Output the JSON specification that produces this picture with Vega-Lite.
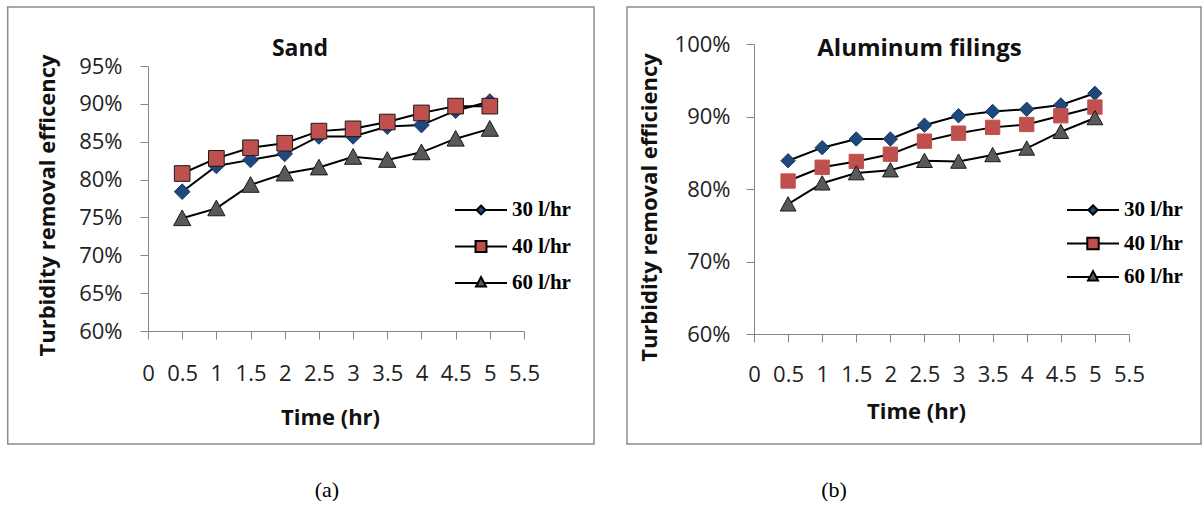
{
  "$schema": "https://vega.github.io/schema/vega-lite/v6.json",
  "background": "white",
  "padding": {"left": 6, "top": 5, "right": 0, "bottom": 0},
  "columns": 2,
  "spacing": 31,
  "resolve": {"scale": {"shape": "independent", "fill": "independent", "stroke": "independent", "color": "independent"}, "legend": {"shape": "independent", "fill": "independent", "color": "independent", "stroke": "independent"}},
  "config": {
    "view": {"stroke": null},
    "font": "Open Sans",
    "axis": {
      "grid": false, "domainColor": "#868686", "domainWidth": 1, "tickColor": "#868686", "tickWidth": 1, "tickSize": 8,
      "labelFont": "Open Sans", "labelFontSize": 22, "labelColor": "#222222", "labelFlush": false, "labelOverlap": false, "labelBound": false,
      "titleFont": "Open Sans", "titleFontSize": 22, "titleFontWeight": "bold", "titleColor": "#111111"
    },
    "legend": {"labelFont": "Liberation Serif", "labelFontSize": 21, "labelFontWeight": "bold", "labelColor": "#000000", "padding": 0, "symbolStrokeColor": "#000000", "symbolStrokeWidth": 2, "symbolOpacity": 1},
    "title": {"font": "Open Sans", "fontWeight": "bold", "color": "#111111"}
  },
  "datasets": {
    "sand": [
      {"time": 0.5, "rate": "30 l/hr", "efficiency": 78.4},
      {"time": 1, "rate": "30 l/hr", "efficiency": 81.8},
      {"time": 1.5, "rate": "30 l/hr", "efficiency": 82.6},
      {"time": 2, "rate": "30 l/hr", "efficiency": 83.4},
      {"time": 2.5, "rate": "30 l/hr", "efficiency": 85.7},
      {"time": 3, "rate": "30 l/hr", "efficiency": 85.7},
      {"time": 3.5, "rate": "30 l/hr", "efficiency": 87.0},
      {"time": 4, "rate": "30 l/hr", "efficiency": 87.2},
      {"time": 4.5, "rate": "30 l/hr", "efficiency": 89.1},
      {"time": 5, "rate": "30 l/hr", "efficiency": 90.3},
      {"time": 0.5, "rate": "40 l/hr", "efficiency": 80.8},
      {"time": 1, "rate": "40 l/hr", "efficiency": 82.8},
      {"time": 1.5, "rate": "40 l/hr", "efficiency": 84.2},
      {"time": 2, "rate": "40 l/hr", "efficiency": 84.8},
      {"time": 2.5, "rate": "40 l/hr", "efficiency": 86.4},
      {"time": 3, "rate": "40 l/hr", "efficiency": 86.7},
      {"time": 3.5, "rate": "40 l/hr", "efficiency": 87.6},
      {"time": 4, "rate": "40 l/hr", "efficiency": 88.8},
      {"time": 4.5, "rate": "40 l/hr", "efficiency": 89.7},
      {"time": 5, "rate": "40 l/hr", "efficiency": 89.7},
      {"time": 0.5, "rate": "60 l/hr", "efficiency": 74.9},
      {"time": 1, "rate": "60 l/hr", "efficiency": 76.2},
      {"time": 1.5, "rate": "60 l/hr", "efficiency": 79.3},
      {"time": 2, "rate": "60 l/hr", "efficiency": 80.8},
      {"time": 2.5, "rate": "60 l/hr", "efficiency": 81.6},
      {"time": 3, "rate": "60 l/hr", "efficiency": 83.0},
      {"time": 3.5, "rate": "60 l/hr", "efficiency": 82.6},
      {"time": 4, "rate": "60 l/hr", "efficiency": 83.6},
      {"time": 4.5, "rate": "60 l/hr", "efficiency": 85.4},
      {"time": 5, "rate": "60 l/hr", "efficiency": 86.7}
    ],
    "alu": [
      {"time": 0.5, "rate": "30 l/hr", "efficiency": 83.9},
      {"time": 1, "rate": "30 l/hr", "efficiency": 85.7},
      {"time": 1.5, "rate": "30 l/hr", "efficiency": 86.9},
      {"time": 2, "rate": "30 l/hr", "efficiency": 86.9},
      {"time": 2.5, "rate": "30 l/hr", "efficiency": 88.8},
      {"time": 3, "rate": "30 l/hr", "efficiency": 90.1},
      {"time": 3.5, "rate": "30 l/hr", "efficiency": 90.7},
      {"time": 4, "rate": "30 l/hr", "efficiency": 91.0},
      {"time": 4.5, "rate": "30 l/hr", "efficiency": 91.6},
      {"time": 5, "rate": "30 l/hr", "efficiency": 93.2},
      {"time": 0.5, "rate": "40 l/hr", "efficiency": 81.1},
      {"time": 1, "rate": "40 l/hr", "efficiency": 83.0},
      {"time": 1.5, "rate": "40 l/hr", "efficiency": 83.8},
      {"time": 2, "rate": "40 l/hr", "efficiency": 84.8},
      {"time": 2.5, "rate": "40 l/hr", "efficiency": 86.6},
      {"time": 3, "rate": "40 l/hr", "efficiency": 87.7},
      {"time": 3.5, "rate": "40 l/hr", "efficiency": 88.5},
      {"time": 4, "rate": "40 l/hr", "efficiency": 88.9},
      {"time": 4.5, "rate": "40 l/hr", "efficiency": 90.1},
      {"time": 5, "rate": "40 l/hr", "efficiency": 91.3},
      {"time": 0.5, "rate": "60 l/hr", "efficiency": 77.9},
      {"time": 1, "rate": "60 l/hr", "efficiency": 80.8},
      {"time": 1.5, "rate": "60 l/hr", "efficiency": 82.2},
      {"time": 2, "rate": "60 l/hr", "efficiency": 82.6},
      {"time": 2.5, "rate": "60 l/hr", "efficiency": 83.9},
      {"time": 3, "rate": "60 l/hr", "efficiency": 83.8},
      {"time": 3.5, "rate": "60 l/hr", "efficiency": 84.7},
      {"time": 4, "rate": "60 l/hr", "efficiency": 85.6},
      {"time": 4.5, "rate": "60 l/hr", "efficiency": 87.9},
      {"time": 5, "rate": "60 l/hr", "efficiency": 89.8}
    ]
  },
  "concat": [
    {
      "title": {"text": "(a)", "orient": "bottom", "anchor": "middle", "frame": "bounds", "dx": 26, "offset": 52, "baseline": "alphabetic", "font": "Liberation Serif", "fontSize": 22, "fontWeight": "normal", "color": "#000000"},
      "spacing": 0,
      "resolve": {"scale": {"shape": "independent", "fill": "independent", "stroke": "independent", "color": "independent"}, "legend": {"shape": "independent", "fill": "independent", "color": "independent", "stroke": "independent"}},
      "vconcat": [
        {
          "width": 1, "height": 1,
          "view": {"fill": "#ffffff", "stroke": null},
          "data": {"values": []},
          "mark": {"type": "point", "opacity": 0},
          "encoding": {}
        },
        {
          "width": 376,
          "height": 265,
          "title": {"text": "Sand", "anchor": "middle", "frame": "group", "dx": -36, "offset": -72.75, "baseline": "alphabetic", "fontSize": 23},
          "resolve": {"scale": {"shape": "independent", "color": "independent", "stroke": "independent"}, "legend": {"shape": "independent", "color": "independent", "stroke": "independent"}},
          "layer": [
            {
              "data": {"values": [{}]},
              "mark": {"type": "rect", "fill": "#ffffff", "fillOpacity": 0, "stroke": "#8c8c8c", "strokeWidth": 1.5, "clip": false},
              "encoding": {
                "x": {"datum": -2.052, "type": "quantitative", "scale": {"domain": [0, 5.5], "nice": false, "zero": false},
                  "axis": {"title": "Time (hr)", "values": [0, 0.5, 1, 1.5, 2, 2.5, 3, 3.5, 4, 4.5, 5, 5.5], "labelExpr": "datum.value + ''", "labelPadding": 24, "titleX": 182, "titleY": 93, "titleBaseline": "alphabetic", "titleAlign": "center"}},
                "x2": {"datum": 6.524},
                "y": {"datum": 102.79, "type": "quantitative", "scale": {"domain": [60, 95], "nice": false, "zero": false},
                  "axis": {"title": "Turbidity removal efficency", "values": [60, 65, 70, 75, 80, 85, 90, 95], "labelExpr": "datum.value + '%'", "labelPadding": 18, "titleX": -94, "titleY": 139, "titleBaseline": "alphabetic", "titleAngle": 270, "titleAlign": "center"}},
                "y2": {"datum": 45.07}
              }
            },
            {
              "data": {"name": "sand"},
              "mark": {"type": "line", "color": "#000000", "strokeWidth": 2},
              "encoding": {
                "x": {"field": "time", "type": "quantitative", "scale": {"domain": [0, 5.5], "nice": false, "zero": false},
                  "axis": {"title": "Time (hr)", "values": [0, 0.5, 1, 1.5, 2, 2.5, 3, 3.5, 4, 4.5, 5, 5.5], "labelExpr": "datum.value + ''", "labelPadding": 24, "titleX": 182, "titleY": 93, "titleBaseline": "alphabetic", "titleAlign": "center"}},
                "y": {"field": "efficiency", "type": "quantitative", "scale": {"domain": [60, 95], "nice": false, "zero": false},
                  "axis": {"title": "Turbidity removal efficency", "values": [60, 65, 70, 75, 80, 85, 90, 95], "labelExpr": "datum.value + '%'", "labelPadding": 18, "titleX": -94, "titleY": 139, "titleBaseline": "alphabetic", "titleAngle": 270, "titleAlign": "center"}},
                "detail": {"field": "rate", "type": "nominal"}
              }
            },
            {
              "data": {"name": "sand"},
              "mark": {"type": "point", "filled": true, "opacity": 1, "size": 245, "strokeWidth": 1},
              "encoding": {
                "x": {"field": "time", "type": "quantitative", "scale": {"domain": [0, 5.5], "nice": false, "zero": false},
                  "axis": {"title": "Time (hr)", "values": [0, 0.5, 1, 1.5, 2, 2.5, 3, 3.5, 4, 4.5, 5, 5.5], "labelExpr": "datum.value + ''", "labelPadding": 24, "titleX": 182, "titleY": 93, "titleBaseline": "alphabetic", "titleAlign": "center"}},
                "y": {"field": "efficiency", "type": "quantitative", "scale": {"domain": [60, 95], "nice": false, "zero": false},
                  "axis": {"title": "Turbidity removal efficency", "values": [60, 65, 70, 75, 80, 85, 90, 95], "labelExpr": "datum.value + '%'", "labelPadding": 18, "titleX": -94, "titleY": 139, "titleBaseline": "alphabetic", "titleAngle": 270, "titleAlign": "center"}},
                "shape": {"field": "rate", "type": "nominal",
                  "scale": {"domain": ["30 l/hr", "40 l/hr", "60 l/hr"], "range": ["diamond", "square", "M0,-1.05L1.1,0.95L-1.1,0.95Z"]}, "legend": null},
                "fill": {"field": "rate", "type": "nominal",
                  "scale": {"domain": ["30 l/hr", "40 l/hr", "60 l/hr"], "range": ["#1F497D", "#C0504D", "#595959"]}, "legend": null},
                "stroke": {"field": "rate", "type": "nominal",
                  "scale": {"domain": ["30 l/hr", "40 l/hr", "60 l/hr"], "range": ["#17375E", "#1a1a1a", "#1a1a1a"]}, "legend": null}
              }
            },
            {
              "data": {"values": []},
              "mark": {"type": "point", "filled": true, "strokeWidth": 2},
              "encoding": {
                "x": {"field": "time", "type": "quantitative", "scale": {"domain": [0, 5.5], "nice": false, "zero": false},
                  "axis": {"title": "Time (hr)", "values": [0, 0.5, 1, 1.5, 2, 2.5, 3, 3.5, 4, 4.5, 5, 5.5], "labelExpr": "datum.value + ''", "labelPadding": 24, "titleX": 182, "titleY": 93, "titleBaseline": "alphabetic", "titleAlign": "center"}},
                "y": {"field": "efficiency", "type": "quantitative", "scale": {"domain": [60, 95], "nice": false, "zero": false},
                  "axis": {"title": "Turbidity removal efficency", "values": [60, 65, 70, 75, 80, 85, 90, 95], "labelExpr": "datum.value + '%'", "labelPadding": 18, "titleX": -94, "titleY": 139, "titleBaseline": "alphabetic", "titleAngle": 270, "titleAlign": "center"}},
                "shape": {"field": "rate", "type": "nominal",
                  "scale": {"domain": ["30 l/hr", "40 l/hr", "60 l/hr"], "range": ["M-2,0H-0.34M0.34,0H2M0,-0.34L0.34,0L0,0.34L-0.34,0Z", "M-2,0H-0.42M0.42,0H2M-0.42,-0.42H0.42V0.42H-0.42Z", "M-2,0H-0.24M0.24,0H2M0,-0.46L0.38,0.26H-0.38Z"]},
                  "legend": {"title": null, "orient": "none", "legendX": 319, "legendY": 130, "symbolSize": 676, "labelOffset": 17, "rowPadding": 12.5}},
                "color": {"field": "rate", "type": "nominal",
                  "scale": {"domain": ["30 l/hr", "40 l/hr", "60 l/hr"], "range": ["#1F497D", "#C0504D", "#595959"]},
                  "legend": {"title": null, "orient": "none", "legendX": 319, "legendY": 130, "symbolSize": 676, "labelOffset": 17, "rowPadding": 12.5}},
                "stroke": {"field": "rate", "type": "nominal",
                  "scale": {"domain": ["30 l/hr", "40 l/hr", "60 l/hr"], "range": ["#000000", "#000000", "#000000"]},
                  "legend": {"title": null, "orient": "none", "legendX": 319, "legendY": 130, "symbolSize": 676, "labelOffset": 17, "rowPadding": 12.5}}
              }
            }
          ]
        }
      ]
    },
    {
      "title": {"text": "(b)", "orient": "bottom", "anchor": "middle", "frame": "bounds", "dx": -80, "offset": 52, "baseline": "alphabetic", "font": "Liberation Serif", "fontSize": 22, "fontWeight": "normal", "color": "#000000"},
      "spacing": 0,
      "resolve": {"scale": {"shape": "independent", "fill": "independent", "stroke": "independent", "color": "independent"}, "legend": {"shape": "independent", "fill": "independent", "color": "independent", "stroke": "independent"}},
      "vconcat": [
        {
          "width": 1, "height": 1,
          "view": {"fill": "#ffffff", "stroke": null},
          "data": {"values": []},
          "mark": {"type": "point", "opacity": 0},
          "encoding": {}
        },
        {
          "width": 375,
          "height": 290,
          "title": {"text": "Aluminum filings", "anchor": "middle", "frame": "group", "dx": -22, "offset": -74, "baseline": "alphabetic", "fontSize": 24},
          "resolve": {"scale": {"shape": "independent", "color": "independent", "stroke": "independent"}, "legend": {"shape": "independent", "color": "independent", "stroke": "independent"}},
          "layer": [
            {
              "data": {"values": [{}]},
              "mark": {"type": "rect", "fill": "#ffffff", "fillOpacity": 0, "stroke": "#8c8c8c", "strokeWidth": 1.5, "clip": false},
              "encoding": {
                "x": {"datum": -1.863, "type": "quantitative", "scale": {"domain": [0, 5.5], "nice": false, "zero": false},
                  "axis": {"title": "Time (hr)", "values": [0, 0.5, 1, 1.5, 2, 2.5, 3, 3.5, 4, 4.5, 5, 5.5], "labelExpr": "datum.value + ''", "labelPadding": 22, "titleX": 162, "titleY": 84, "titleBaseline": "alphabetic", "titleAlign": "center"}},
                "x2": {"datum": 6.556},
                "y": {"datum": 105.1, "type": "quantitative", "scale": {"domain": [60, 100], "nice": false, "zero": false},
                  "axis": {"title": "Turbidity removal efficiency", "values": [60, 70, 80, 90, 100], "labelExpr": "datum.value + '%'", "labelPadding": 16, "titleX": -98, "titleY": 163, "titleBaseline": "alphabetic", "titleAngle": 270, "titleAlign": "center"}},
                "y2": {"datum": 44.83}
              }
            },
            {
              "data": {"name": "alu"},
              "mark": {"type": "line", "color": "#000000", "strokeWidth": 2},
              "encoding": {
                "x": {"field": "time", "type": "quantitative", "scale": {"domain": [0, 5.5], "nice": false, "zero": false},
                  "axis": {"title": "Time (hr)", "values": [0, 0.5, 1, 1.5, 2, 2.5, 3, 3.5, 4, 4.5, 5, 5.5], "labelExpr": "datum.value + ''", "labelPadding": 22, "titleX": 162, "titleY": 84, "titleBaseline": "alphabetic", "titleAlign": "center"}},
                "y": {"field": "efficiency", "type": "quantitative", "scale": {"domain": [60, 100], "nice": false, "zero": false},
                  "axis": {"title": "Turbidity removal efficiency", "values": [60, 70, 80, 90, 100], "labelExpr": "datum.value + '%'", "labelPadding": 16, "titleX": -98, "titleY": 163, "titleBaseline": "alphabetic", "titleAngle": 270, "titleAlign": "center"}},
                "detail": {"field": "rate", "type": "nominal"}
              }
            },
            {
              "data": {"name": "alu"},
              "mark": {"type": "point", "filled": true, "opacity": 1, "size": 205, "strokeWidth": 1},
              "encoding": {
                "x": {"field": "time", "type": "quantitative", "scale": {"domain": [0, 5.5], "nice": false, "zero": false},
                  "axis": {"title": "Time (hr)", "values": [0, 0.5, 1, 1.5, 2, 2.5, 3, 3.5, 4, 4.5, 5, 5.5], "labelExpr": "datum.value + ''", "labelPadding": 22, "titleX": 162, "titleY": 84, "titleBaseline": "alphabetic", "titleAlign": "center"}},
                "y": {"field": "efficiency", "type": "quantitative", "scale": {"domain": [60, 100], "nice": false, "zero": false},
                  "axis": {"title": "Turbidity removal efficiency", "values": [60, 70, 80, 90, 100], "labelExpr": "datum.value + '%'", "labelPadding": 16, "titleX": -98, "titleY": 163, "titleBaseline": "alphabetic", "titleAngle": 270, "titleAlign": "center"}},
                "shape": {"field": "rate", "type": "nominal",
                  "scale": {"domain": ["30 l/hr", "40 l/hr", "60 l/hr"], "range": ["diamond", "square", "M0,-1.05L1.1,0.95L-1.1,0.95Z"]}, "legend": null},
                "fill": {"field": "rate", "type": "nominal",
                  "scale": {"domain": ["30 l/hr", "40 l/hr", "60 l/hr"], "range": ["#1F497D", "#C0504D", "#595959"]}, "legend": null},
                "stroke": {"field": "rate", "type": "nominal",
                  "scale": {"domain": ["30 l/hr", "40 l/hr", "60 l/hr"], "range": ["#17375E", "#C0504D", "#1a1a1a"]}, "legend": null}
              }
            },
            {
              "data": {"values": []},
              "mark": {"type": "point", "filled": true, "strokeWidth": 2},
              "encoding": {
                "x": {"field": "time", "type": "quantitative", "scale": {"domain": [0, 5.5], "nice": false, "zero": false},
                  "axis": {"title": "Time (hr)", "values": [0, 0.5, 1, 1.5, 2, 2.5, 3, 3.5, 4, 4.5, 5, 5.5], "labelExpr": "datum.value + ''", "labelPadding": 22, "titleX": 162, "titleY": 84, "titleBaseline": "alphabetic", "titleAlign": "center"}},
                "y": {"field": "efficiency", "type": "quantitative", "scale": {"domain": [60, 100], "nice": false, "zero": false},
                  "axis": {"title": "Turbidity removal efficiency", "values": [60, 70, 80, 90, 100], "labelExpr": "datum.value + '%'", "labelPadding": 16, "titleX": -98, "titleY": 163, "titleBaseline": "alphabetic", "titleAngle": 270, "titleAlign": "center"}},
                "shape": {"field": "rate", "type": "nominal",
                  "scale": {"domain": ["30 l/hr", "40 l/hr", "60 l/hr"], "range": ["M-2,0H-0.36M0.36,0H2M0,-0.36L0.36,0L0,0.36L-0.36,0Z", "M-2,0H-0.44M0.44,0H2M-0.44,-0.44H0.44V0.44H-0.44Z", "M-2,0H-0.24M0.24,0H2M0,-0.46L0.38,0.26H-0.38Z"]},
                  "legend": {"title": null, "orient": "none", "legendX": 325, "legendY": 152, "symbolSize": 676, "labelOffset": 17, "rowPadding": 9.5}},
                "color": {"field": "rate", "type": "nominal",
                  "scale": {"domain": ["30 l/hr", "40 l/hr", "60 l/hr"], "range": ["#1F497D", "#C0504D", "#595959"]},
                  "legend": {"title": null, "orient": "none", "legendX": 325, "legendY": 152, "symbolSize": 676, "labelOffset": 17, "rowPadding": 9.5}},
                "stroke": {"field": "rate", "type": "nominal",
                  "scale": {"domain": ["30 l/hr", "40 l/hr", "60 l/hr"], "range": ["#000000", "#000000", "#000000"]},
                  "legend": {"title": null, "orient": "none", "legendX": 325, "legendY": 152, "symbolSize": 676, "labelOffset": 17, "rowPadding": 9.5}}
              }
            }
          ]
        }
      ]
    }
  ]
}
